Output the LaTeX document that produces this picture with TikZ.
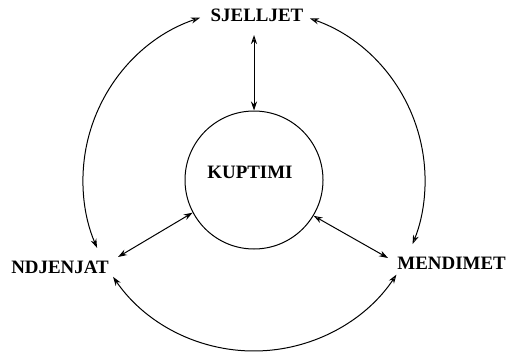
\documentclass[tikz,border=0pt]{standalone}
\usepackage{fontspec}
\setmainfont{Liberation Serif}
\usetikzlibrary{arrows.meta,calc}
\tikzset{
  fh/.tip={Stealth[length=9bp,width=6bp]},
  oh/.tip={Stealth[open,length=9bp,width=6bp]}}
\begin{document}
\begin{tikzpicture}[x=1bp,y=1bp,
  lbl/.style={font=\fontsize{19}{20}\selectfont\bfseries, inner sep=1bp},
  conn/.style={line width=1bp}]
\useasboundingbox (0,0) rectangle (508,352);
\coordinate (c) at (254,172);
\node[draw, circle, line width=1bp, minimum size=138bp, inner sep=0] (k) at (c) {};
\node[lbl] (kt) at (250,180) {KUPTIMI};
\node[lbl] (s) at (257,337) {SJELLJET};
\node[lbl] (n) at (60,85) {NDJENJAT};
\node[lbl, anchor=east] (m) at (507,89) {MENDIMET};
% outer arc end points
\coordinate (sL) at ($(c)+(108.4:171bp)$);
\coordinate (sR) at ($(c)+(70.9:171bp)$);
\coordinate (nB) at ($(c)+(214.5:171bp)$);
\coordinate (sB) at (254,317);
\coordinate (nR) at (118,95);
\coordinate (mL) at (388,94);
% arcs
\draw[conn, oh-fh] (sL) arc[start angle=108.4, end angle=203.4, radius=171bp];
\draw[conn, oh-oh] (sR) arc[start angle=70.9, end angle=-22, radius=171bp];
\draw[conn, fh-oh] (nB) arc[start angle=214.5, end angle=326.4, radius=171bp];
% straight connectors
\draw[conn, oh-fh] (sB) -- (k.north);
\draw[conn, fh-fh] (nR) -- (k.208);
\draw[conn, oh-fh] (k.329) -- (mL);
\end{tikzpicture}
\end{document}
